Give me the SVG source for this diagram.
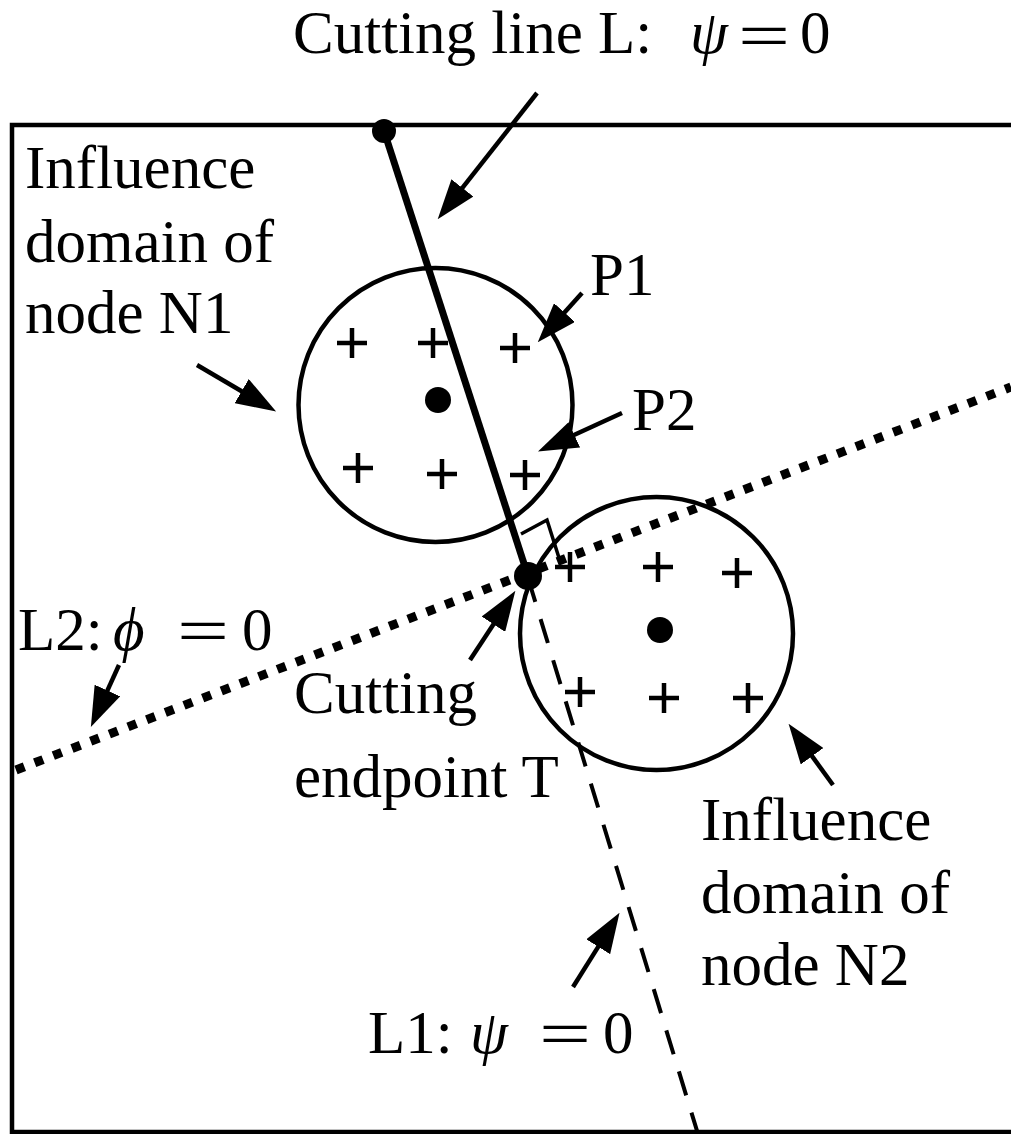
<svg xmlns="http://www.w3.org/2000/svg" width="1011" height="1134" viewBox="0 0 1011 1134">
<style>
text{font-family:"Liberation Serif","DejaVu Serif",serif;font-size:61px;fill:#000}
.it{font-style:italic}
.eq{font-size:66px}
.circ{fill:none;stroke:#000;stroke-width:4.5}
.cross{stroke:#000;stroke-width:4.5;fill:none}
.arr{stroke:#000;stroke-width:4.5;fill:none;marker-end:url(#ah)}
.dot{fill:#000}
</style>
<defs>
<marker id="ah" markerUnits="userSpaceOnUse" viewBox="0 0 40 28" refX="1" refY="14" markerWidth="40" markerHeight="28" orient="auto">
<path d="M0,0 L40,14 L0,28 z" fill="#000"/>
</marker>
</defs>
<rect x="12" y="125" width="1010" height="1007" fill="none" stroke="#000" stroke-width="4.5"/>

<g id="lines">
<line id="L2" x1="16" y1="770" x2="1011" y2="387" stroke="#000" stroke-width="9" stroke-dasharray="9 11"/>
<line id="L1" x1="528" y1="578" x2="698" y2="1134" stroke="#000" stroke-width="4" stroke-dasharray="25 18"/>
<line id="cutline" x1="384" y1="131" x2="528" y2="576" stroke="#000" stroke-width="7"/>
<path id="rightangle" d="M521,534 L547,520 L560,561" fill="none" stroke="#000" stroke-width="3.5"/>
</g>

<g id="node-N1">
<circle class="circ" cx="435.5" cy="405" r="137"/>
<circle class="dot" cx="438" cy="400" r="13"/>
<path class="cross" d="M337,343h30M352,328v30 M418,343h30M433,328v30 M500,348h30M515,333v30 M343,468h30M358,453v30 M427,474h30M442,459v30 M510,475h30M525,460v30"/>
</g>

<g id="node-N2">
<circle class="circ" cx="656.5" cy="633.5" r="136.5"/>
<circle class="dot" cx="660" cy="630" r="13"/>
<path class="cross" d="M555,567h30M570,552v30 M643,567h30M658,552v30 M722,573h30M737,558v30 M565,692h30M580,677v30 M649,698h30M664,683v30 M733,698h30M748,683v30"/>
</g>

<g id="endpoints">
<circle class="dot" cx="384" cy="131" r="12"/>
<circle class="dot" cx="528" cy="576" r="14"/>
</g>

<g id="arrows">
<line class="arr" x1="537" y1="93" x2="461.8" y2="188.6"/>
<line class="arr" x1="197" y1="365" x2="242.5" y2="391.7"/>
<line class="arr" x1="582" y1="293" x2="563.8" y2="313.3"/>
<line class="arr" x1="622" y1="413" x2="573.4" y2="435.3"/>
<line class="arr" x1="119" y1="665" x2="107" y2="691.4"/>
<line class="arr" x1="470" y1="660" x2="494" y2="623.4"/>
<line class="arr" x1="833" y1="785" x2="811.5" y2="755.4"/>
<line class="arr" x1="573" y1="987" x2="598.8" y2="945.9"/>
</g>

<g id="labels">
<g id="label-cutline">
<text x="293" y="53">Cutting line L:</text>
<text class="it" x="690" y="53">ψ</text>
<text class="eq" transform="translate(738,58) scale(1.4,1)">=</text>
<text x="800" y="53">0</text>
</g>
<text id="label-N1" x="25"><tspan x="25" y="188">Influence</tspan><tspan x="25" y="262">domain of</tspan><tspan x="25" y="333">node N1</tspan></text>
<text id="label-P1" x="590" y="295">P1</text>
<text id="label-P2" x="632" y="430">P2</text>
<g id="label-L2">
<text x="18" y="650">L2:</text>
<text class="it" x="113" y="650">ϕ</text>
<text class="eq" transform="translate(177,653) scale(1.4,1)">=</text>
<text x="242" y="650">0</text>
</g>
<text id="label-T"><tspan x="294" y="713">Cutting</tspan><tspan x="294" y="797">endpoint T</tspan></text>
<text id="label-N2"><tspan x="701" y="840">Influence</tspan><tspan x="701" y="913">domain of</tspan><tspan x="701" y="985">node N2</tspan></text>
<g id="label-L1">
<text x="368" y="1053">L1:</text>
<text class="it" x="470" y="1053">ψ</text>
<text class="eq" transform="translate(539,1056) scale(1.4,1)">=</text>
<text x="603" y="1053">0</text>
</g>
</g>
</svg>
